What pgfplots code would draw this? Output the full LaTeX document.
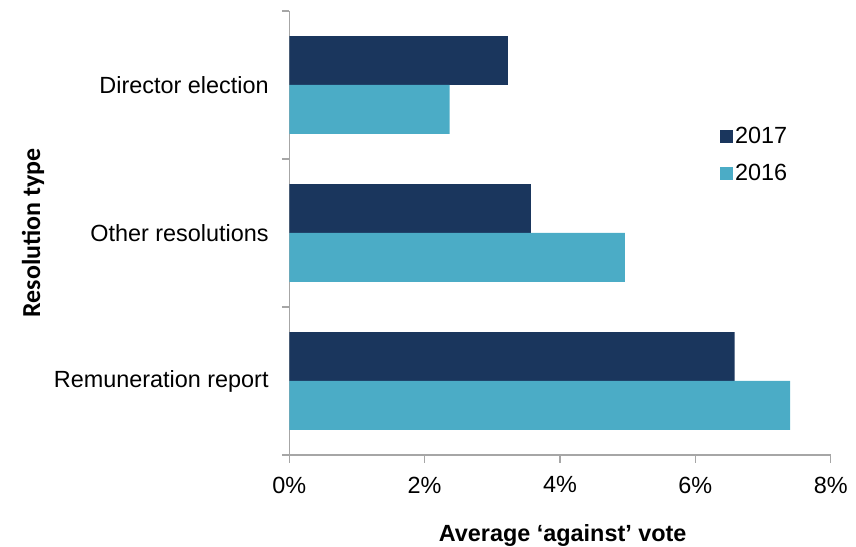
\documentclass[border=0pt]{standalone}
\usepackage{pgfplots}
\pgfplotsset{compat=1.18}
\usepackage{fontspec}
\setmainfont{Liberation Sans}
\newfontfamily\carlito{Carlito}
\definecolor{dark}{HTML}{1A365D}
\definecolor{light}{HTML}{4BACC6}
\definecolor{axgray}{HTML}{A6A6A6}
\begin{document}
\begin{tikzpicture}
\path[use as bounding box] (0,0) rectangle (856bp,547bp);
\begin{axis}[
  at={(289.3bp,92bp)}, anchor=south west,
  scale only axis, width=541.4bp, height=444bp,
  xmin=0, xmax=8, ymin=-0.5, ymax=2.5,
  axis x line=bottom, axis y line=left,
  axis line style={-, axgray, line width=1.5bp},
  xtick={0,2,4,6,8}, xticklabels={0\%,2\%,4\%,6\%,8\%},
  ytick={0,1,2}, yticklabels={Remuneration report,Other resolutions,Director election},
  minor ytick={-0.5,0.5,1.5,2.5},
  tick align=outside,
  major tick length=7.5bp, minor tick length=7.5bp,
  tick style={axgray, line width=1.5bp},
  major y tick style={draw=none},
  ticklabel style={font=\fontsize{23.5}{28}\selectfont, text=black},
  yticklabel style={inner sep=0pt, xshift=-13bp},
  xticklabel style={inner sep=0pt, yshift=-14bp},
  xlabel={\bfseries Average ‘against’ vote},
  xlabel style={font=\fontsize{23.5}{28}\selectfont, at={(rel axis cs:0.505,0)}, anchor=base, yshift=-86bp},
  ylabel={\carlito\bfseries Resolution type},
  ylabel style={font=\fontsize{26}{30}\selectfont, at={(rel axis cs:-0.4734,0.5)}, anchor=center},
  legend style={draw=none, fill=none, at={(rel axis cs:0.7955,0.743)}, anchor=north west,
    font=\fontsize{23.5}{28}\selectfont, inner sep=0pt, row sep=15bp,
    nodes={inner sep=2bp}},
  legend cell align=left,
  legend image code/.code={\fill[#1] (0bp,-6.5bp) rectangle (13bp,6.5bp);},
]
\addplot[xbar, bar width=0.331, bar shift=0.1655, fill=dark, draw=none]
  coordinates {(6.58,0) (3.57,1) (3.23,2)};
\addlegendentry{2017}
\addplot[xbar, bar width=0.331, bar shift=-0.1655, fill=light, draw=none]
  coordinates {(7.40,0) (4.96,1) (2.37,2)};
\addlegendentry{2016}
\end{axis}
\end{tikzpicture}
\end{document}
